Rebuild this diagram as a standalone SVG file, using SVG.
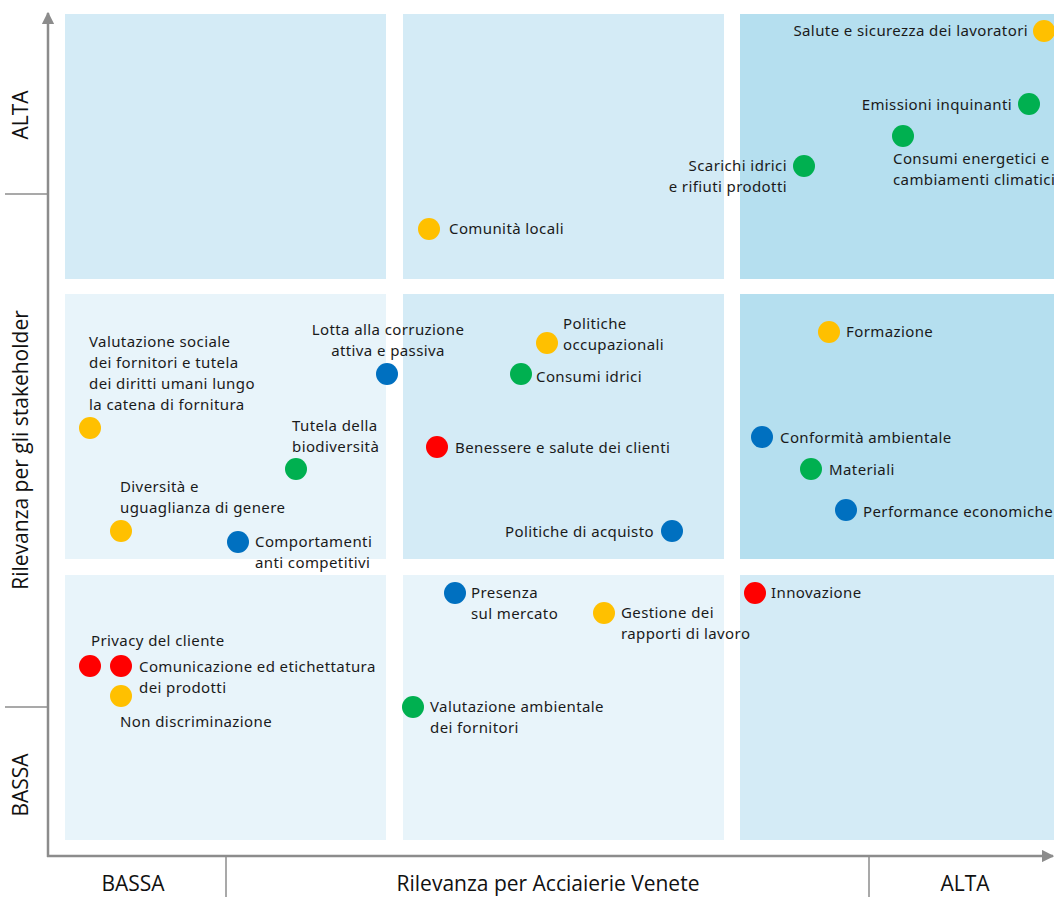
<svg xmlns="http://www.w3.org/2000/svg" width="1054" height="897" viewBox="0 0 1054 897">
<style>
.c1{fill:#d4ebf6}.c2{fill:#b5dfef}.c3{fill:#e8f4fa}
.ax{stroke:#8c8c8c;stroke-width:2.5;fill:none}
.tk{stroke:#8c8c8c;stroke-width:1.5;fill:none}
.al{font-family:"Open Sans","Liberation Sans",sans-serif;font-size:21px;fill:#111}
.lb{font-family:"Noto Sans","Open Sans",sans-serif;font-size:15px;letter-spacing:0.4px;fill:#1a1a1a}
.y{fill:#ffc000}.g{fill:#00b050}.b{fill:#0070c0}.r{fill:#ff0000}
</style>
<defs>
<marker id="ar" viewBox="0 0 10 10" refX="9" refY="5" markerWidth="5" markerHeight="5" markerUnits="strokeWidth" orient="auto"><path d="M0,0 L10,5 L0,10 z" fill="#8c8c8c"/></marker>
</defs>
<g id="cells">
<rect class="c1" x="65" y="14" width="321" height="265"/>
<rect class="c1" x="403" y="14" width="321" height="265"/>
<rect class="c2" x="740" y="14" width="314" height="265"/>
<rect class="c3" x="65" y="294" width="321" height="265"/>
<rect class="c1" x="403" y="294" width="321" height="265"/>
<rect class="c2" x="740" y="294" width="314" height="265"/>
<rect class="c3" x="65" y="575" width="321" height="265"/>
<rect class="c3" x="403" y="575" width="321" height="265"/>
<rect class="c1" x="740" y="575" width="314" height="265"/>
</g>
<g id="axes">
<line class="ax" x1="48" y1="857" x2="48" y2="13" marker-end="url(#ar)"/>
<line class="ax" x1="47" y1="856" x2="1053" y2="856" marker-end="url(#ar)"/>
<line class="tk" x1="5" y1="194" x2="48" y2="194"/>
<line class="tk" x1="5" y1="707" x2="48" y2="707"/>
<line class="tk" x1="226" y1="856" x2="226" y2="897"/>
<line class="tk" x1="869" y1="856" x2="869" y2="897"/>
<text class="al" transform="translate(28,115) rotate(-90)" text-anchor="middle">ALTA</text>
<text class="al" transform="translate(28,785) rotate(-90)" text-anchor="middle">BASSA</text>
<text class="al" transform="translate(28,450) rotate(-90)" text-anchor="middle">Rilevanza per gli stakeholder</text>
<text class="al" x="133" y="891" text-anchor="middle">BASSA</text>
<text class="al" x="548" y="891" text-anchor="middle">Rilevanza per Acciaierie Venete</text>
<text class="al" x="965" y="891" text-anchor="middle">ALTA</text>
</g>
<g id="n1"><circle class="y" cx="1044" cy="31" r="11"/><text class="lb" x="1028" y="36" text-anchor="end">Salute e sicurezza dei lavoratori</text></g>
<g id="n2"><circle class="g" cx="1029" cy="104" r="11"/><text class="lb" x="1012" y="110" text-anchor="end">Emissioni inquinanti</text></g>
<g id="n3"><circle class="g" cx="903" cy="136" r="11"/><text class="lb" x="893" y="164">Consumi energetici e</text><text class="lb" x="893" y="185">cambiamenti climatici</text></g>
<g id="n4"><circle class="g" cx="804" cy="166" r="11"/><text class="lb" x="787" y="171" text-anchor="end">Scarichi idrici</text><text class="lb" x="787" y="192" text-anchor="end">e rifiuti prodotti</text></g>
<g id="n5"><circle class="y" cx="429" cy="229" r="11"/><text class="lb" x="449" y="234">Comunità locali</text></g>
<g id="n6"><circle class="y" cx="90" cy="428" r="11"/><text class="lb" x="89" y="347">Valutazione sociale</text><text class="lb" x="89" y="368">dei fornitori e tutela</text><text class="lb" x="89" y="389">dei diritti umani lungo</text><text class="lb" x="89" y="410">la catena di fornitura</text></g>
<g id="n7"><circle class="b" cx="387" cy="374" r="11"/><text class="lb" x="388" y="335" text-anchor="middle">Lotta alla corruzione</text><text class="lb" x="388" y="356" text-anchor="middle">attiva e passiva</text></g>
<g id="n8"><circle class="y" cx="547" cy="343" r="11"/><text class="lb" x="563" y="329">Politiche</text><text class="lb" x="563" y="350">occupazionali</text></g>
<g id="n9"><circle class="g" cx="521" cy="374" r="11"/><text class="lb" x="536" y="382">Consumi idrici</text></g>
<g id="n10"><circle class="g" cx="296" cy="469" r="11"/><text class="lb" x="292" y="431">Tutela della</text><text class="lb" x="292" y="452">biodiversità</text></g>
<g id="n11"><circle class="r" cx="437" cy="447" r="11"/><text class="lb" x="455" y="453">Benessere e salute dei clienti</text></g>
<g id="n12"><circle class="y" cx="121" cy="531" r="11"/><text class="lb" x="120" y="492">Diversità e</text><text class="lb" x="120" y="513">uguaglianza di genere</text></g>
<g id="n13"><circle class="b" cx="238" cy="542" r="11"/><text class="lb" x="255" y="547">Comportamenti</text><text class="lb" x="255" y="568">anti competitivi</text></g>
<g id="n14"><circle class="b" cx="672" cy="531" r="11"/><text class="lb" x="654" y="537" text-anchor="end">Politiche di acquisto</text></g>
<g id="n15"><circle class="y" cx="829" cy="332" r="11"/><text class="lb" x="846" y="337">Formazione</text></g>
<g id="n16"><circle class="b" cx="762" cy="437" r="11"/><text class="lb" x="780" y="443">Conformità ambientale</text></g>
<g id="n17"><circle class="g" cx="811" cy="469" r="11"/><text class="lb" x="829" y="475">Materiali</text></g>
<g id="n18"><circle class="b" cx="846" cy="510" r="11"/><text class="lb" x="863" y="517">Performance economiche</text></g>
<g id="n19"><circle class="b" cx="455" cy="593" r="11"/><text class="lb" x="471" y="598">Presenza</text><text class="lb" x="471" y="619">sul mercato</text></g>
<g id="n20"><circle class="y" cx="604" cy="613" r="11"/><text class="lb" x="621" y="618">Gestione dei</text><text class="lb" x="621" y="639">rapporti di lavoro</text></g>
<g id="n21"><circle class="r" cx="755" cy="593" r="11"/><text class="lb" x="771" y="598">Innovazione</text></g>
<g id="n22"><circle class="r" cx="90" cy="666" r="11"/><text class="lb" x="91" y="646">Privacy del cliente</text></g>
<g id="n23"><circle class="r" cx="121" cy="666" r="11"/><text class="lb" x="139" y="672">Comunicazione ed etichettatura</text><text class="lb" x="139" y="693">dei prodotti</text></g>
<g id="n24"><circle class="y" cx="121" cy="696" r="11"/><text class="lb" x="120" y="727">Non discriminazione</text></g>
<g id="n25"><circle class="g" cx="413" cy="707" r="11"/><text class="lb" x="430" y="712">Valutazione ambientale</text><text class="lb" x="430" y="733">dei fornitori</text></g>
</svg>
